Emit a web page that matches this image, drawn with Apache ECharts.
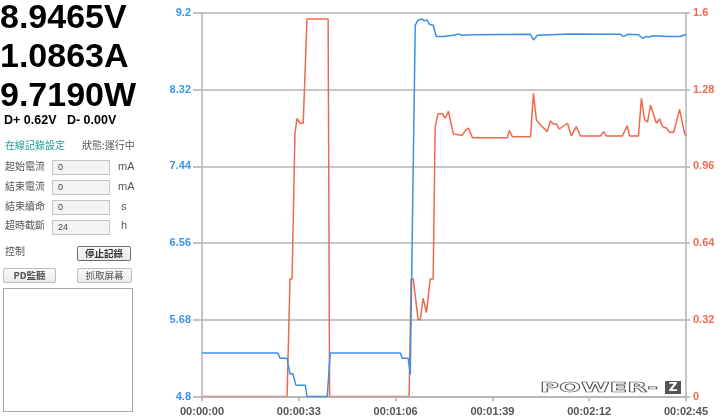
<!DOCTYPE html>
<html>
<head>
<meta charset="utf-8">
<script src="https://cdn.jsdelivr.net/npm/echarts@6/dist/echarts.min.js"></script>
<style>
html,body{margin:0;padding:0;background:#fff;}
#wrap{position:relative;width:720px;height:419px;overflow:hidden;}
#chart{position:absolute;left:0;top:0;width:720px;height:419px;}
.big{position:absolute;left:0;font-family:"Liberation Sans",Arial,sans-serif;font-weight:bold;font-size:34px;color:#000;line-height:1;}
.cjk{position:absolute;font-family:"Noto Sans CJK TC","Noto Sans CJK SC",sans-serif;font-size:10px;color:#555;line-height:1;white-space:nowrap;}
.box{position:absolute;border:1px solid #c4c4c4;background:#f3f3f3;box-sizing:border-box;font-family:"Liberation Sans",Arial,sans-serif;font-size:9px;color:#444;padding-left:5px;line-height:13px;}
.unit{position:absolute;font-family:"Liberation Sans",Arial,sans-serif;font-size:11px;color:#555;line-height:1;}
.btn{position:absolute;box-sizing:border-box;border:1px solid #bdbdbd;background:linear-gradient(#fafafa,#e9e9e9);border-radius:2px;font-family:"Noto Sans CJK TC",sans-serif;font-size:9.5px;color:#555;text-align:center;line-height:13px;}
</style>
</head>
<body>
<div id="wrap">
<div id="chart"></div>
<div class="big" style="top:-1px">8.9465V</div>
<div class="big" style="top:38px">1.0863A</div>
<div class="big" style="top:77px">9.7190W</div>
<div style="position:absolute;left:4px;top:113px;font-family:'Liberation Sans',Arial,sans-serif;font-weight:bold;font-size:12.5px;color:#000;white-space:nowrap;">D+ 0.62V&nbsp;&nbsp;&nbsp;D- 0.00V</div>
<div class="cjk" style="left:5px;top:140px;color:#1d9b9b;">在線記錄設定</div>
<div class="cjk" style="left:82px;top:140px;">狀態:運行中</div>
<div class="cjk" style="left:5px;top:161px;">起始電流</div>
<div class="box" style="left:52px;top:160px;width:58px;height:15px;">0</div>
<div class="unit" style="left:118px;top:161px;">mA</div>
<div class="cjk" style="left:5px;top:181px;">結束電流</div>
<div class="box" style="left:52px;top:180px;width:58px;height:15px;">0</div>
<div class="unit" style="left:118px;top:181px;">mA</div>
<div class="cjk" style="left:5px;top:201px;">結束續命</div>
<div class="box" style="left:52px;top:200px;width:58px;height:15px;">0</div>
<div class="unit" style="left:121px;top:201px;">s</div>
<div class="cjk" style="left:5px;top:220px;">超時截斷</div>
<div class="box" style="left:52px;top:220px;width:58px;height:15px;">24</div>
<div class="unit" style="left:121px;top:220px;">h</div>
<div class="cjk" style="left:5px;top:246px;">控制</div>
<div class="btn" style="left:77px;top:246px;width:54px;height:15px;border-color:#6f6f6f;font-weight:bold;color:#333;">停止記錄</div>
<div class="btn" style="left:3px;top:268px;width:53px;height:15px;font-weight:bold;">PD監聽</div>
<div class="btn" style="left:77px;top:268px;width:55px;height:15px;">抓取屏幕</div>
<div style="position:absolute;left:3px;top:288px;width:130px;height:124px;box-sizing:border-box;border:1.5px solid #a8a8a8;"></div>
<div style="position:absolute;left:540px;top:380px;font-family:'DejaVu Sans',sans-serif;font-size:14px;font-weight:bold;color:#fff;-webkit-text-stroke:0.7px #555;transform:scaleX(1.85);transform-origin:left top;line-height:1;white-space:nowrap;">POWER-</div>
<div style="position:absolute;left:665px;top:381px;width:16px;height:13px;background:#555;color:#fff;font-family:'DejaVu Sans',sans-serif;font-weight:bold;font-size:12px;line-height:13px;text-align:center;">Z</div>
</div>
<script>
// Voltage (V), left axis
const voltTime = [0,25.9,26.6,29,29.4,30,31,32,35.2,35.8,42.7,43.7,67.6,68.3,70.3,71,72.7,73.7,75.1,75.8,76.8,77.5,78.8,79.9,82.3,85.7,87.4,88.7,92.2,112,113,114.3,125.6,142.7,143.7,145,148.8,150.2,151.2,152.2,153.9,158.7,163.1,164.5,165];
const voltVals = [5.30,5.30,5.24,5.24,5.16,5.06,5.06,4.93,4.93,4.80,4.80,5.30,5.30,5.24,5.24,5.05,9.06,9.12,9.13,9.11,9.12,9.07,9.06,8.93,8.93,8.944,8.96,8.944,8.95,8.955,8.89,8.944,8.96,8.955,8.93,8.955,8.95,8.91,8.93,8.925,8.94,8.93,8.93,8.95,8.95];
// Current (A), right axis
const currTime = [0,29,30,30.7,31.7,32.4,33.4,34.5,35.8,43,43.5,70.6,71.3,72,73.7,74.4,75.4,76.5,77.8,78.8,79.5,80.5,81.9,82.9,84,85.7,88.7,89.8,90.8,92.2,104.1,104.8,105.8,112,113,114,115.4,117.7,118.8,119.8,120.8,121.8,124.6,125.9,127.6,129,135.8,136.9,137.9,143.3,145,145.7,148.8,149.8,150.9,151.9,152.9,154.9,156,157,158.4,159.4,160.8,162.8,164.5,165];
const currVals = [0,0,0.49,0.49,1.10,1.16,1.14,1.14,1.575,1.575,0,0,0.49,0.49,0.32,0.32,0.41,0.35,0.49,0.49,1.126,1.18,1.18,1.16,1.19,1.095,1.09,1.11,1.12,1.08,1.08,1.11,1.084,1.084,1.265,1.154,1.133,1.105,1.15,1.137,1.137,1.116,1.14,1.087,1.126,1.087,1.087,1.105,1.087,1.087,1.13,1.087,1.087,1.244,1.154,1.146,1.216,1.14,1.158,1.126,1.119,1.102,1.102,1.198,1.098,1.086];
// Axis ranges / ticks
const xMin = 0, xMax = 165, xStep = 33;
const vMin = 4.8, vMax = 9.2, vStep = 0.88;
const aMin = 0, aMax = 1.6, aStep = 0.32;

function pad(n){return (n<10?'0':'')+n;}
function hms(s){s=Math.round(s);return pad(Math.floor(s/3600))+':'+pad(Math.floor(s%3600/60))+':'+pad(s%60);}
const zip = (t,v) => t.map((x,i)=>[x,v[i]]);

const chart = echarts.init(document.getElementById('chart'));
const gridColor = '#b3b3b3';
chart.setOption({
  animation:false,
  backgroundColor:'#fff',
  grid:{left:202,right:34,top:13,bottom:22.5},
  xAxis:{type:'value',min:xMin,max:xMax,interval:xStep,z:3,
    axisLine:{lineStyle:{color:gridColor,width:1.5}},
    axisTick:{show:true,length:5,lineStyle:{color:gridColor,width:1.5}},
    splitLine:{show:false},
    axisLabel:{formatter:hms,color:'#555',fontSize:11,fontWeight:'bold',margin:10,fontFamily:'Liberation Sans, Arial, sans-serif'}},
  yAxis:[
    {type:'value',position:'left',min:vMin,max:vMax,interval:vStep,z:0,
     axisLine:{show:true,lineStyle:{color:gridColor,width:1.5}},
     axisTick:{show:true,length:9,lineStyle:{color:gridColor,width:1.5}},
     splitLine:{show:true,lineStyle:{color:gridColor,width:1.5}},
     axisLabel:{color:'#3d94ee',fontSize:11,fontWeight:'bold',margin:11,fontFamily:'Liberation Sans, Arial, sans-serif',formatter:v=>String(+v.toFixed(2))}},
    {type:'value',position:'right',min:aMin,max:aMax,interval:aStep,z:0,
     axisLine:{show:true,lineStyle:{color:gridColor,width:1.5}},
     axisTick:{show:true,length:4,lineStyle:{color:gridColor,width:1.5}},
     splitLine:{show:false},
     axisLabel:{color:'#f26a4e',fontSize:11,fontWeight:'bold',margin:7,fontFamily:'Liberation Sans, Arial, sans-serif',formatter:v=>String(+v.toFixed(2))}}
  ],
  series:[
    {type:'line',yAxisIndex:1,z:2,data:zip(currTime,currVals),showSymbol:false,lineStyle:{color:'#f0684c',width:1.5},itemStyle:{color:'#f0684c'}},
    {type:'line',yAxisIndex:0,z:4,data:zip(voltTime,voltVals),showSymbol:false,lineStyle:{color:'#3d8fe3',width:1.5},itemStyle:{color:'#3d8fe3'}}
  ]
});
</script>
</body>
</html>
